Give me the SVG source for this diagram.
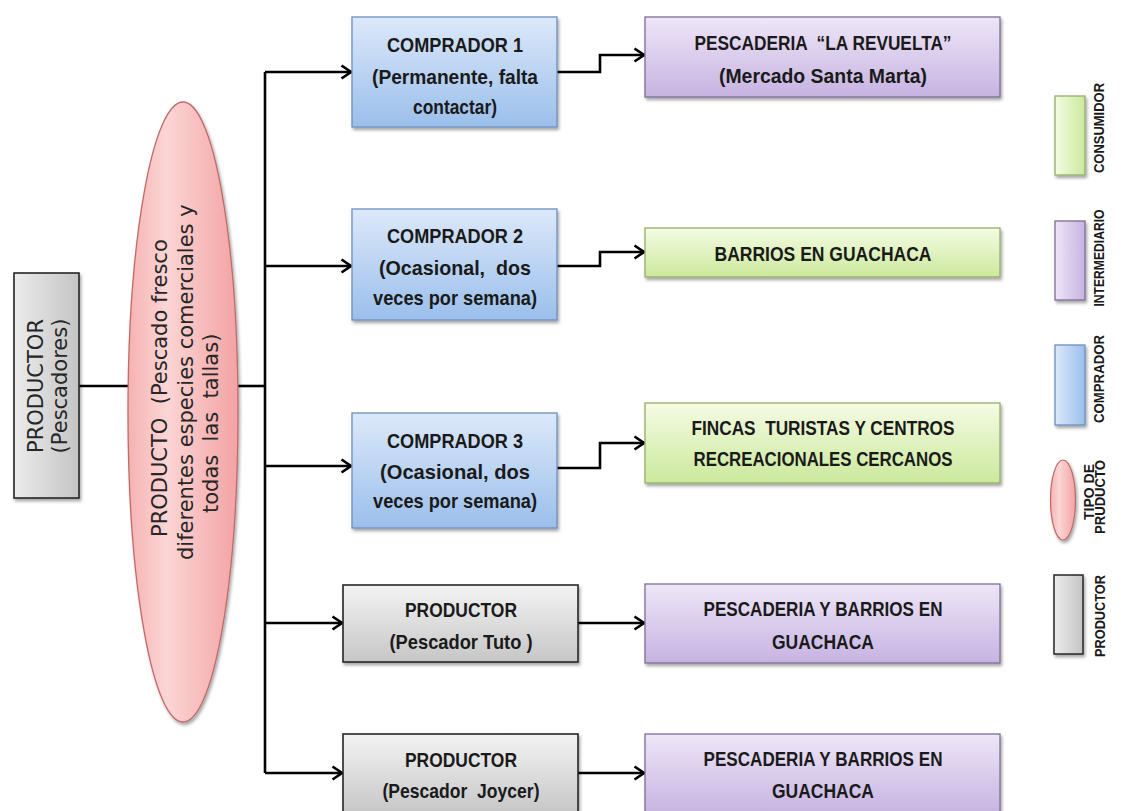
<svg xmlns="http://www.w3.org/2000/svg" width="1123" height="811" viewBox="0 0 1123 811">
<defs>
<style>
.bx{font-family:'Liberation Sans',Arial,sans-serif;font-weight:bold;font-size:21px;fill:#1a1a1a;text-anchor:middle;white-space:pre}
.vt{font-family:'DejaVu Sans','Verdana',sans-serif;font-size:21px;fill:#262626;white-space:pre}
.lg{font-family:'Liberation Sans',Arial,sans-serif;font-weight:bold;font-size:14px;fill:#1a1a1a;text-anchor:middle}
.ln{fill:none;stroke:#000;stroke-width:2.6}
.blue{fill:url(#gBlue);stroke:#6d8fbf;stroke-width:1.3}
.purp{fill:url(#gPurp);stroke:#7d6e95;stroke-width:1.3}
.green{fill:url(#gGreen);stroke:#94ad6a;stroke-width:1.3}
.gray{fill:url(#gGray);stroke:#262626;stroke-width:1.6}
</style>
<linearGradient id="gBlue" x1="0" y1="0" x2="0" y2="1"><stop offset="0" stop-color="#dce8fa"/><stop offset="1" stop-color="#9abfeb"/></linearGradient>
<linearGradient id="gPurp" x1="0" y1="0" x2="0" y2="1"><stop offset="0" stop-color="#eee6f8"/><stop offset="1" stop-color="#c7b3e1"/></linearGradient>
<linearGradient id="gGreen" x1="0" y1="0" x2="0" y2="1"><stop offset="0" stop-color="#f4fbe3"/><stop offset="1" stop-color="#cbe99c"/></linearGradient>
<linearGradient id="gGray" x1="0" y1="0" x2="0" y2="1"><stop offset="0" stop-color="#f3f3f3"/><stop offset="1" stop-color="#c6c6c6"/></linearGradient>
<linearGradient id="hBlue" x1="0" y1="0" x2="1" y2="0"><stop offset="0" stop-color="#dce8fa"/><stop offset="1" stop-color="#9abfeb"/></linearGradient>
<linearGradient id="hPurp" x1="0" y1="0" x2="1" y2="0"><stop offset="0" stop-color="#eee6f8"/><stop offset="1" stop-color="#c7b3e1"/></linearGradient>
<linearGradient id="hGreen" x1="0" y1="0" x2="1" y2="0"><stop offset="0" stop-color="#f4fbe3"/><stop offset="1" stop-color="#cbe99c"/></linearGradient>
<linearGradient id="hGray" x1="0" y1="0" x2="1" y2="0"><stop offset="0" stop-color="#ececec"/><stop offset="1" stop-color="#c4c4c4"/></linearGradient>
<linearGradient id="gPink" x1="0" y1="0" x2="1" y2="0"><stop offset="0" stop-color="#f6b2b2"/><stop offset="0.35" stop-color="#fcd5d5"/><stop offset="1" stop-color="#f3a3a3"/></linearGradient>
<filter id="sh" x="-10%" y="-10%" width="125%" height="130%"><feDropShadow dx="1.5" dy="2.5" stdDeviation="1.8" flood-color="#000" flood-opacity="0.35"/></filter>
<marker id="ar" viewBox="0 0 12 16" refX="11" refY="8" markerWidth="12" markerHeight="16" markerUnits="userSpaceOnUse" orient="auto">
<path d="M1.5,1.5 L11,8 L1.5,14.5" fill="none" stroke="#000" stroke-width="2.6" stroke-linejoin="miter"/>
</marker>
</defs>
<rect width="1123" height="811" fill="#fff"/>

<g id="connectors">
<path class="ln" d="M79,386 H129"/>
<path class="ln" d="M238,386 H265"/>
<path class="ln" d="M265,72 V773"/>
<path class="ln" d="M265,72 H351" marker-end="url(#ar)"/>
<path class="ln" d="M265,266 H351" marker-end="url(#ar)"/>
<path class="ln" d="M265,466 H351" marker-end="url(#ar)"/>
<path class="ln" d="M265,623 H342" marker-end="url(#ar)"/>
<path class="ln" d="M265,773 H342" marker-end="url(#ar)"/>
<path class="ln" d="M557,72 H600 V55 H644" marker-end="url(#ar)"/>
<path class="ln" d="M557,266 H600 V252 H644" marker-end="url(#ar)"/>
<path class="ln" d="M557,468 H600 V443 H644" marker-end="url(#ar)"/>
<path class="ln" d="M578,623 H644" marker-end="url(#ar)"/>
<path class="ln" d="M578,773 H644" marker-end="url(#ar)"/>
</g>

<g id="productor-pescadores">
<rect x="14" y="273" width="65" height="225" fill="url(#hGray)" stroke="#262626" stroke-width="1.6" filter="url(#sh)"/>
<text class="vt" text-anchor="middle" transform="translate(43,386) rotate(-90)">PRODUCTOR</text>
<text class="vt" text-anchor="middle" transform="translate(67,386) rotate(-90)">(Pescadores)</text>
</g>

<g id="producto">
<ellipse cx="183" cy="412" rx="55" ry="310" fill="url(#gPink)" stroke="#c06a68" stroke-width="1.3" filter="url(#sh)"/>
<text class="vt" transform="translate(167,537) rotate(-90)">PRODUCTO  (Pescado fresco</text>
<text class="vt" transform="translate(193,560) rotate(-90)">diferentes especies comerciales y</text>
<text class="vt" transform="translate(218,513) rotate(-90)">todas  las  tallas)</text>
</g>

<g id="comprador1">
<rect class="blue" x="352" y="17" width="205" height="110" filter="url(#sh)"/>
<text class="bx" x="455" y="52" textLength="136" lengthAdjust="spacingAndGlyphs">COMPRADOR 1</text>
<text class="bx" x="455" y="84" textLength="166" lengthAdjust="spacingAndGlyphs">(Permanente, falta</text>
<text class="bx" x="455" y="114" textLength="84" lengthAdjust="spacingAndGlyphs">contactar)</text>
</g>

<g id="comprador2">
<rect class="blue" x="352" y="209" width="205" height="111" filter="url(#sh)"/>
<text class="bx" x="455" y="243" textLength="136" lengthAdjust="spacingAndGlyphs">COMPRADOR 2</text>
<text class="bx" x="455" y="275" textLength="152" lengthAdjust="spacingAndGlyphs">(Ocasional,  dos</text>
<text class="bx" x="455" y="305" textLength="164" lengthAdjust="spacingAndGlyphs">veces por semana)</text>
</g>

<g id="comprador3">
<rect class="blue" x="352" y="413" width="205" height="115" filter="url(#sh)"/>
<text class="bx" x="455" y="448" textLength="136" lengthAdjust="spacingAndGlyphs">COMPRADOR 3</text>
<text class="bx" x="455" y="479" textLength="150" lengthAdjust="spacingAndGlyphs">(Ocasional, dos</text>
<text class="bx" x="455" y="508" textLength="164" lengthAdjust="spacingAndGlyphs">veces por semana)</text>
</g>

<g id="productor-tuto">
<rect class="gray" x="343" y="585" width="235" height="77" filter="url(#sh)"/>
<text class="bx" x="461" y="617" textLength="112" lengthAdjust="spacingAndGlyphs">PRODUCTOR</text>
<text class="bx" x="461" y="649" textLength="143" lengthAdjust="spacingAndGlyphs">(Pescador Tuto )</text>
</g>

<g id="productor-joycer">
<rect class="gray" x="343" y="734" width="235" height="80" filter="url(#sh)"/>
<text class="bx" x="461" y="767" textLength="112" lengthAdjust="spacingAndGlyphs">PRODUCTOR</text>
<text class="bx" x="461" y="798" textLength="157" lengthAdjust="spacingAndGlyphs">(Pescador  Joycer)</text>
</g>

<g id="pescaderia-revuelta">
<rect class="purp" x="645" y="17" width="355" height="80" filter="url(#sh)"/>
<text class="bx" x="823" y="50" textLength="257" lengthAdjust="spacingAndGlyphs">PESCADERIA  “LA REVUELTA”</text>
<text class="bx" x="823" y="83" textLength="208" lengthAdjust="spacingAndGlyphs">(Mercado Santa Marta)</text>
</g>

<g id="barrios-guachaca">
<rect class="green" x="645" y="228" width="355" height="49" filter="url(#sh)"/>
<text class="bx" x="823" y="261" textLength="217" lengthAdjust="spacingAndGlyphs">BARRIOS EN GUACHACA</text>
</g>

<g id="fincas">
<rect class="green" x="645" y="403" width="355" height="80" filter="url(#sh)"/>
<text class="bx" x="823" y="435" textLength="263" lengthAdjust="spacingAndGlyphs">FINCAS  TURISTAS Y CENTROS</text>
<text class="bx" x="823" y="466" textLength="259" lengthAdjust="spacingAndGlyphs">RECREACIONALES CERCANOS</text>
</g>

<g id="pescaderia-tuto">
<rect class="purp" x="645" y="584" width="355" height="79" filter="url(#sh)"/>
<text class="bx" x="823" y="616" textLength="239" lengthAdjust="spacingAndGlyphs">PESCADERIA Y BARRIOS EN</text>
<text class="bx" x="823" y="649" textLength="102" lengthAdjust="spacingAndGlyphs">GUACHACA</text>
</g>

<g id="pescaderia-joycer">
<rect class="purp" x="645" y="734" width="355" height="80" filter="url(#sh)"/>
<text class="bx" x="823" y="766" textLength="239" lengthAdjust="spacingAndGlyphs">PESCADERIA Y BARRIOS EN</text>
<text class="bx" x="823" y="798" textLength="102" lengthAdjust="spacingAndGlyphs">GUACHACA</text>
</g>

<g id="legend">
<rect x="1055" y="96" width="30" height="79" fill="url(#hGreen)" stroke="#94ad6a" stroke-width="1.3" filter="url(#sh)"/>
<text class="lg" transform="translate(1104,128) rotate(-90)" textLength="90" lengthAdjust="spacingAndGlyphs">CONSUMIDOR</text>
<rect x="1055" y="221" width="30" height="79" fill="url(#hPurp)" stroke="#7d6e95" stroke-width="1.3" filter="url(#sh)"/>
<text class="lg" transform="translate(1104,258) rotate(-90)" textLength="97" lengthAdjust="spacingAndGlyphs">INTERMEDIARIO</text>
<rect x="1055" y="345" width="30" height="80" fill="url(#hBlue)" stroke="#6d8fbf" stroke-width="1.3" filter="url(#sh)"/>
<text class="lg" transform="translate(1104,379) rotate(-90)" textLength="88" lengthAdjust="spacingAndGlyphs">COMPRADOR</text>
<ellipse cx="1063" cy="500" rx="12.5" ry="40" fill="url(#gPink)" stroke="#c06a68" stroke-width="1.2" filter="url(#sh)"/>
<text class="lg" transform="translate(1094,492) rotate(-90)" textLength="56" lengthAdjust="spacingAndGlyphs">TIPO DE</text>
<text class="lg" transform="translate(1105,497) rotate(-90)" textLength="74" lengthAdjust="spacingAndGlyphs">PRUDUCTO</text>
<rect x="1054" y="575" width="29" height="79" fill="url(#hGray)" stroke="#262626" stroke-width="1.5" filter="url(#sh)"/>
<text class="lg" transform="translate(1105,616) rotate(-90)" textLength="82" lengthAdjust="spacingAndGlyphs">PRODUCTOR</text>
</g>
</svg>
